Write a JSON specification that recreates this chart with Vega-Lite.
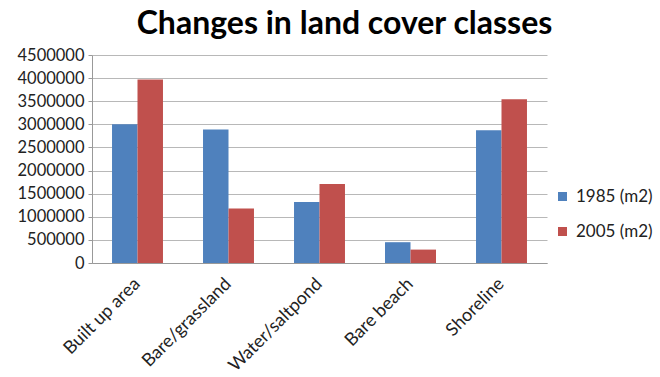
{
  "$schema": "https://vega.github.io/schema/vega-lite/v6.json",
  "width": 455,
  "height": 208,
  "autosize": {"type": "none"},
  "padding": {"left": 92, "top": 55, "right": 113, "bottom": 114},
  "background": "white",
  "title": {
    "text": "Changes in land cover classes",
    "font": "Lato",
    "fontSize": 32,
    "fontWeight": "bold",
    "color": "#000000",
    "anchor": "middle",
    "dx": 25,
    "offset": 6
  },
  "data": {
    "values": [
      {"cls": "Built up area", "year": "1985 (m2)", "area": 3000000},
      {"cls": "Built up area", "year": "2005 (m2)", "area": 3970000},
      {"cls": "Bare/grassland", "year": "1985 (m2)", "area": 2890000},
      {"cls": "Bare/grassland", "year": "2005 (m2)", "area": 1180000},
      {"cls": "Water/saltpond", "year": "1985 (m2)", "area": 1320000},
      {"cls": "Water/saltpond", "year": "2005 (m2)", "area": 1710000},
      {"cls": "Bare beach", "year": "1985 (m2)", "area": 450000},
      {"cls": "Bare beach", "year": "2005 (m2)", "area": 290000},
      {"cls": "Shoreline", "year": "1985 (m2)", "area": 2870000},
      {"cls": "Shoreline", "year": "2005 (m2)", "area": 3540000}
    ]
  },
  "mark": {"type": "bar"},
  "encoding": {
    "x": {
      "field": "cls",
      "type": "nominal",
      "sort": null,
      "scale": {"paddingInner": 0.44, "paddingOuter": 0.22},
      "axis": {
        "title": null,
        "labelAngle": -45,
        "labelAlign": "right",
        "labelBaseline": "middle",
        "labelFont": "Lato",
        "labelFontSize": 18,
        "labelColor": "#222222",
        "labelPadding": 18,
        "domainColor": "#999999",
        "ticks": false
      }
    },
    "xOffset": {"field": "year", "type": "nominal"},
    "y": {
      "field": "area",
      "type": "quantitative",
      "scale": {"domain": [0, 4500000], "nice": false},
      "axis": {
        "title": null,
        "values": [0, 500000, 1000000, 1500000, 2000000, 2500000, 3000000, 3500000, 4000000, 4500000],
        "format": "d",
        "labelFont": "Lato",
        "labelFontSize": 16.5,
        "labelColor": "#222222",
        "labelPadding": 4,
        "gridColor": "#b8b8b8",
        "gridWidth": 1,
        "domainColor": "#999999",
        "tickColor": "#999999",
        "tickSize": 4
      }
    },
    "color": {
      "field": "year",
      "type": "nominal",
      "scale": {"range": ["#4F81BD", "#C0504D"]},
      "legend": {
        "title": null,
        "orient": "none",
        "legendX": 462,
        "legendY": 133,
        "symbolType": "square",
        "symbolSize": 81,
        "symbolStrokeWidth": 0,
        "labelFont": "Lato",
        "labelFontSize": 17,
        "labelColor": "#222222",
        "rowPadding": 17,
        "labelOffset": 5
      }
    }
  },
  "config": {"view": {"stroke": null}}
}
